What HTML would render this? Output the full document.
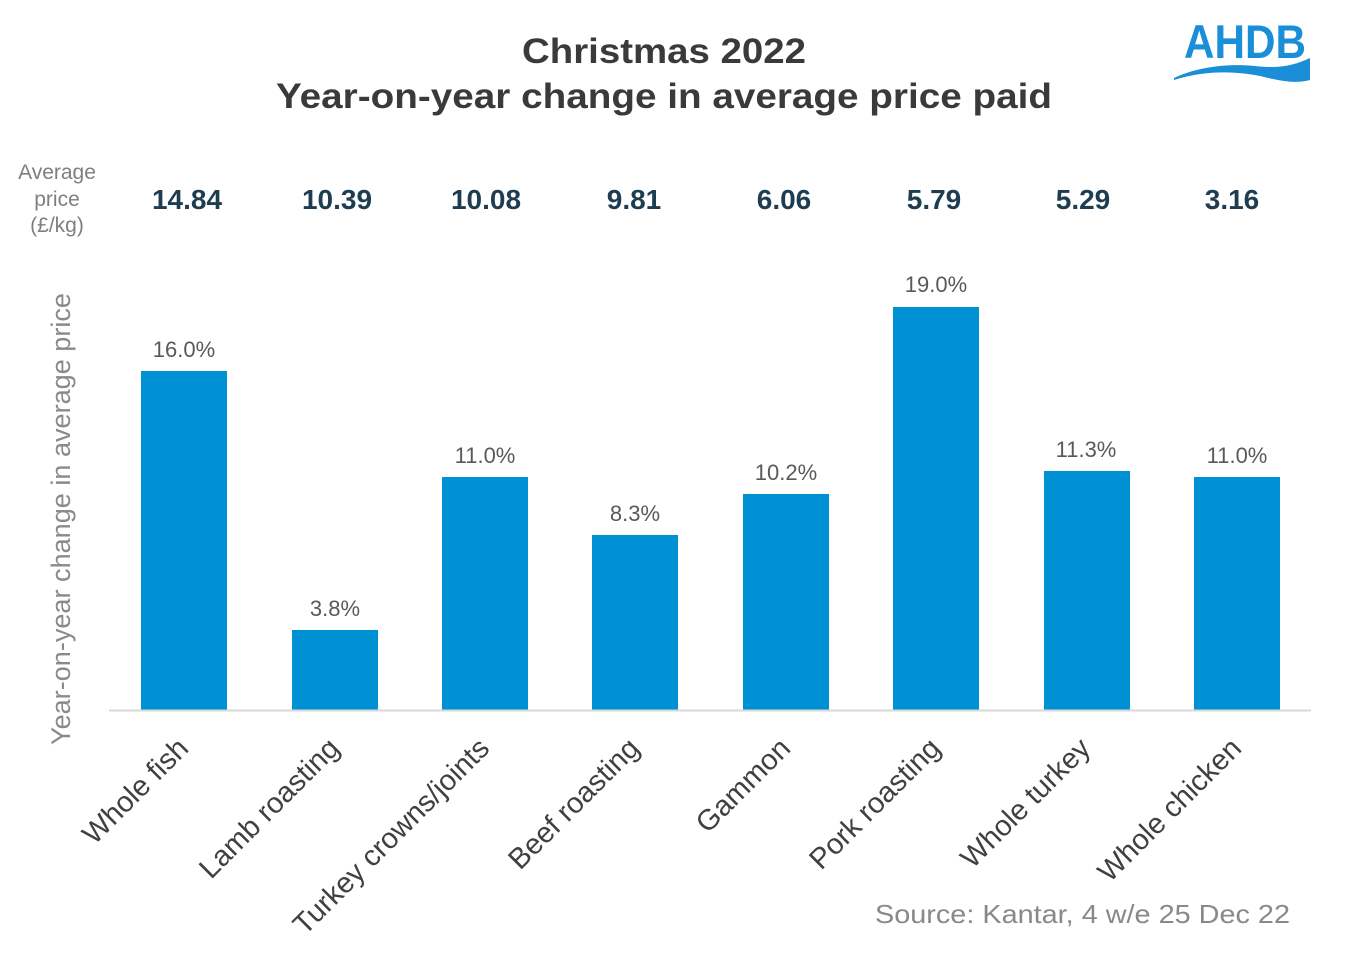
<!DOCTYPE html>
<html><head><meta charset="utf-8"><style>
html,body{margin:0;padding:0;background:#fff;}
svg{display:block;font-family:"Liberation Sans",Arial,sans-serif;}
</style></head><body>
<svg width="1357" height="970" viewBox="0 0 1357 970" xmlns="http://www.w3.org/2000/svg">
<rect width="1357" height="970" fill="#fff"/>
<!-- Title -->
<text x="664" y="63" text-anchor="middle" font-size="35" font-weight="bold" fill="#3a3a3a" textLength="284" lengthAdjust="spacingAndGlyphs">Christmas 2022</text>
<text x="664" y="108" text-anchor="middle" font-size="35" font-weight="bold" fill="#3a3a3a" textLength="776" lengthAdjust="spacingAndGlyphs">Year-on-year change in average price paid</text>
<!-- Logo -->
<text x="1184" y="58" font-size="47" font-weight="bold" fill="#1a8fd8" textLength="122" lengthAdjust="spacingAndGlyphs">AHDB</text>
<path d="M1174,78 C1195,68 1225,63 1255,66 C1280,69 1295,65 1310,58 L1310,80 C1295,84 1280,81 1260,76 C1235,71 1205,70 1174,80 Z" fill="#1a8fd8"/>
<!-- Average price label -->
<g font-size="21" fill="#7f7f7f" text-anchor="middle">
<text x="57" y="179">Average</text>
<text x="57" y="206">price</text>
<text x="57" y="232">(£/kg)</text>
</g>
<!-- Average price values -->
<g font-size="28" font-weight="bold" fill="#1f3d50" text-anchor="middle">
<text x="187" y="209">14.84</text>
<text x="337" y="209">10.39</text>
<text x="486" y="209">10.08</text>
<text x="634" y="209">9.81</text>
<text x="784" y="209">6.06</text>
<text x="934" y="209">5.79</text>
<text x="1083" y="209">5.29</text>
<text x="1232" y="209">3.16</text>
</g>
<!-- Y axis title -->
<text transform="translate(70,519) rotate(-90)" text-anchor="middle" font-size="27" fill="#8a8a8a" textLength="452" lengthAdjust="spacingAndGlyphs">Year-on-year change in average price</text>
<!-- Bars -->
<g fill="#0091d5">
<rect x="141" y="371" width="86" height="339"/>
<rect x="292" y="630" width="86" height="80"/>
<rect x="442" y="477" width="86" height="233"/>
<rect x="592" y="535" width="86" height="175"/>
<rect x="743" y="494" width="86" height="216"/>
<rect x="893" y="307" width="86" height="403"/>
<rect x="1044" y="471" width="86" height="239"/>
<rect x="1194" y="477" width="86" height="233"/>
</g>
<!-- Axis line -->
<line x1="109" y1="710.5" x2="1311" y2="710.5" stroke="#d9d9d9" stroke-width="2"/>
<!-- Percent labels -->
<g font-size="22" fill="#595959" text-anchor="middle">
<text x="184" y="357">16.0%</text>
<text x="335" y="616">3.8%</text>
<text x="485" y="463">11.0%</text>
<text x="635" y="521">8.3%</text>
<text x="786" y="480">10.2%</text>
<text x="936" y="292">19.0%</text>
<text x="1086" y="457">11.3%</text>
<text x="1237" y="463">11.0%</text>
</g>
<!-- Category labels -->
<g font-size="29" fill="#404040" text-anchor="end">
<text transform="translate(190,750) rotate(-45)">Whole fish</text>
<text transform="translate(341,750) rotate(-45)">Lamb roasting</text>
<text transform="translate(491,750) rotate(-45)">Turkey crowns/joints</text>
<text transform="translate(641,750) rotate(-45)">Beef roasting</text>
<text transform="translate(792,750) rotate(-45)">Gammon</text>
<text transform="translate(942,750) rotate(-45)">Pork roasting</text>
<text transform="translate(1092,750) rotate(-45)">Whole turkey</text>
<text transform="translate(1243,750) rotate(-45)">Whole chicken</text>
</g>
<!-- Source -->
<text x="875" y="923" font-size="26" fill="#898989" textLength="415" lengthAdjust="spacingAndGlyphs">Source: Kantar, 4 w/e 25 Dec 22</text>
</svg>
</body></html>
